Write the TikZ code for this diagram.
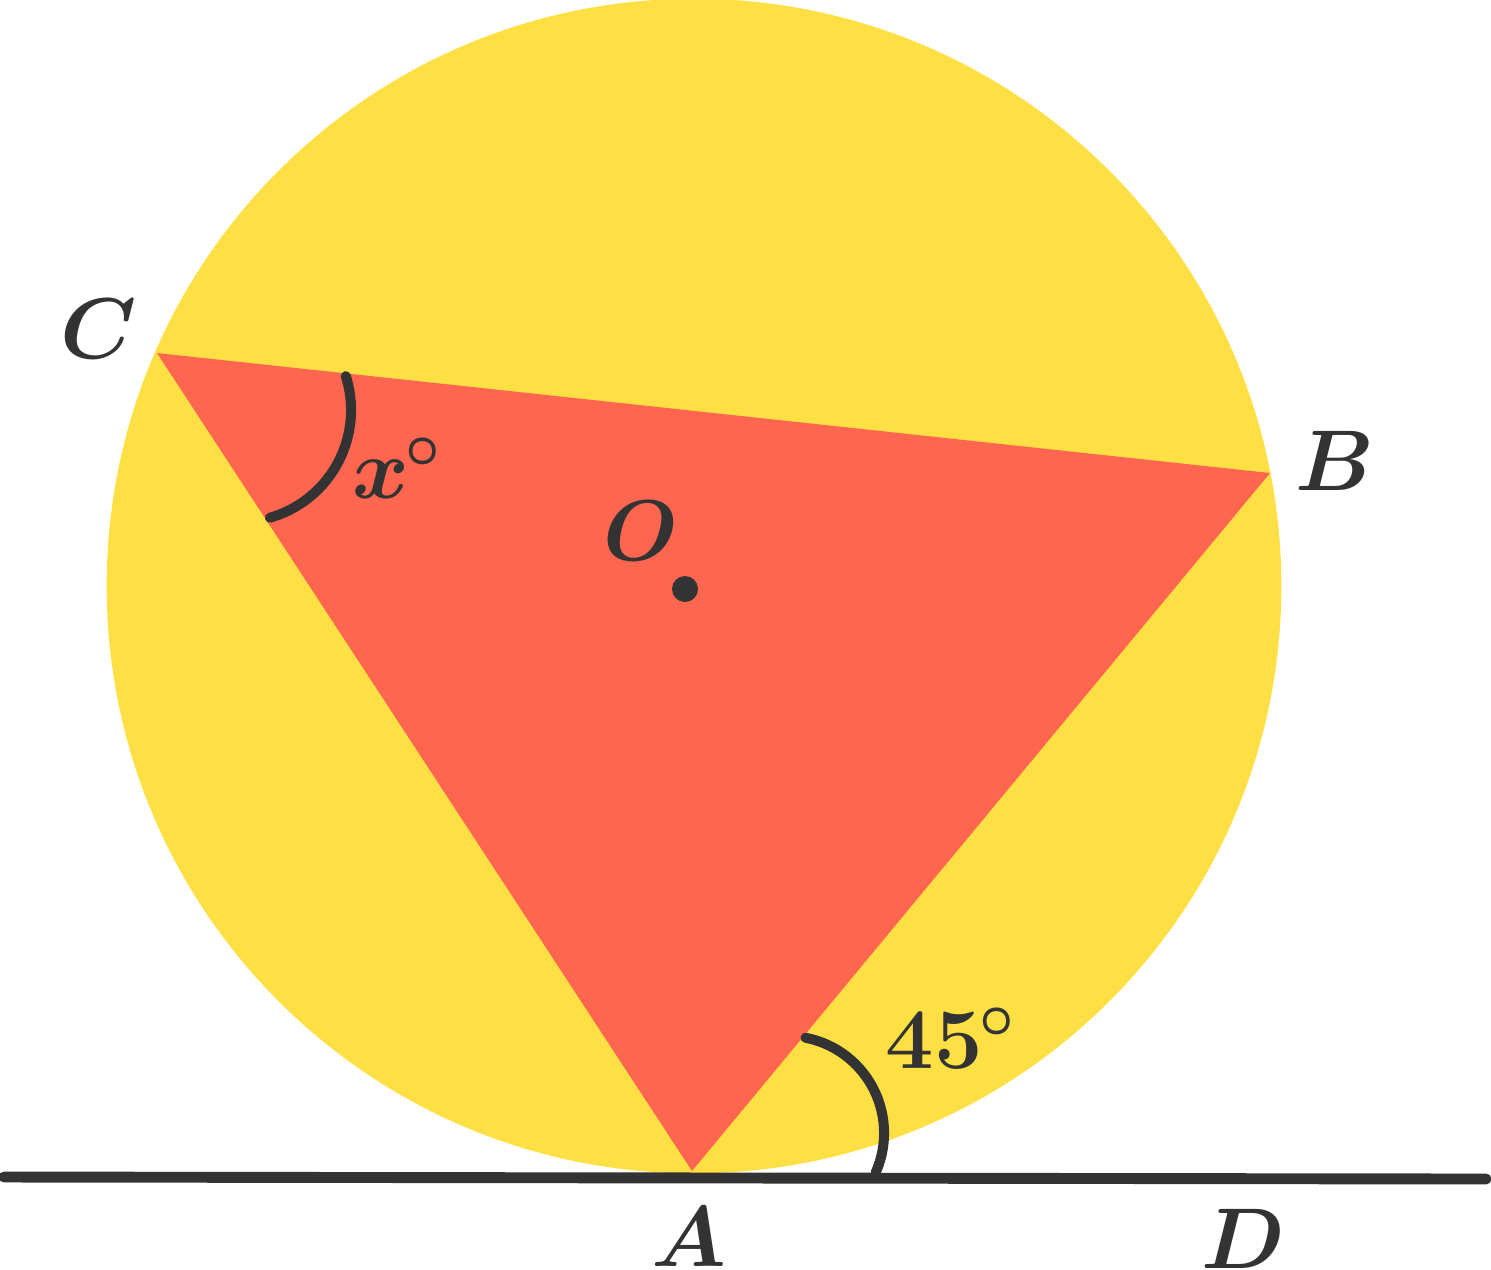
\documentclass[tikz,border=0pt]{standalone}
\usepackage{fix-cm}
\usepackage{amsmath,bm}
\definecolor{circyellow}{HTML}{FFE044}
\definecolor{trired}{HTML}{FF6650}
\definecolor{ink}{HTML}{333333}
\begin{document}
\begin{tikzpicture}[x=0.01cm,y=-0.01cm,
  lbl/.style={text=ink,font=\fontsize{24.5}{29}\selectfont,inner sep=0pt,anchor=base},
  anglearc/.style={draw=ink,line width=2.85pt,line cap=round},
  tangent/.style={draw=ink,line width=3.1pt,line cap=round}]
\useasboundingbox (0,0) rectangle (1491,1269);
\coordinate (Ctr) at (694,586);
\coordinate (A) at (692,1171);
\coordinate (B) at (1270,473);
\coordinate (C) at (157,353);
\coordinate (L1) at (4,1177);
\coordinate (L2) at (1486,1179);
\coordinate (CarcC) at (239,410);
\coordinate (AarcC) at (787,1133);
% circle
\fill[circyellow] (Ctr) circle[radius=5.87cm];
% triangle
\fill[trired] (A) -- (B) -- (C) -- cycle;
% tangent line
\draw[tangent] (L1) -- (L2);
% angle arcs
\draw[anglearc] (CarcC) ++(17.6:1.12cm) arc[start angle=17.6, end angle=-74, radius=1.12cm];
\draw[anglearc] (AarcC) ++(79:0.97cm) arc[start angle=79, end angle=-24, radius=0.97cm];
% centre
\fill[ink] (685,589) circle[radius=0.13cm];
% labels
\node[lbl] (lC) at (99,358) {$\bm{C}$};
\node[lbl] (lB) at (1335,490) {$\bm{B}$};
\node[lbl] (lO) at (641,560) {$\bm{O}$};
\node[lbl] (lA) at (689,1266) {$\bm{A}$};
\node[lbl] (lD) at (1243,1268) {$\bm{D}$};
\node[lbl,anchor=base west] (lx) at (352,498) {$\bm{x}^{\kern-1pt\bm{\circ}}$};
\node[lbl,anchor=base west] (l45) at (885,1068) {$\bm{45}^{\kern-1pt\bm{\circ}}$};
\end{tikzpicture}
\end{document}
